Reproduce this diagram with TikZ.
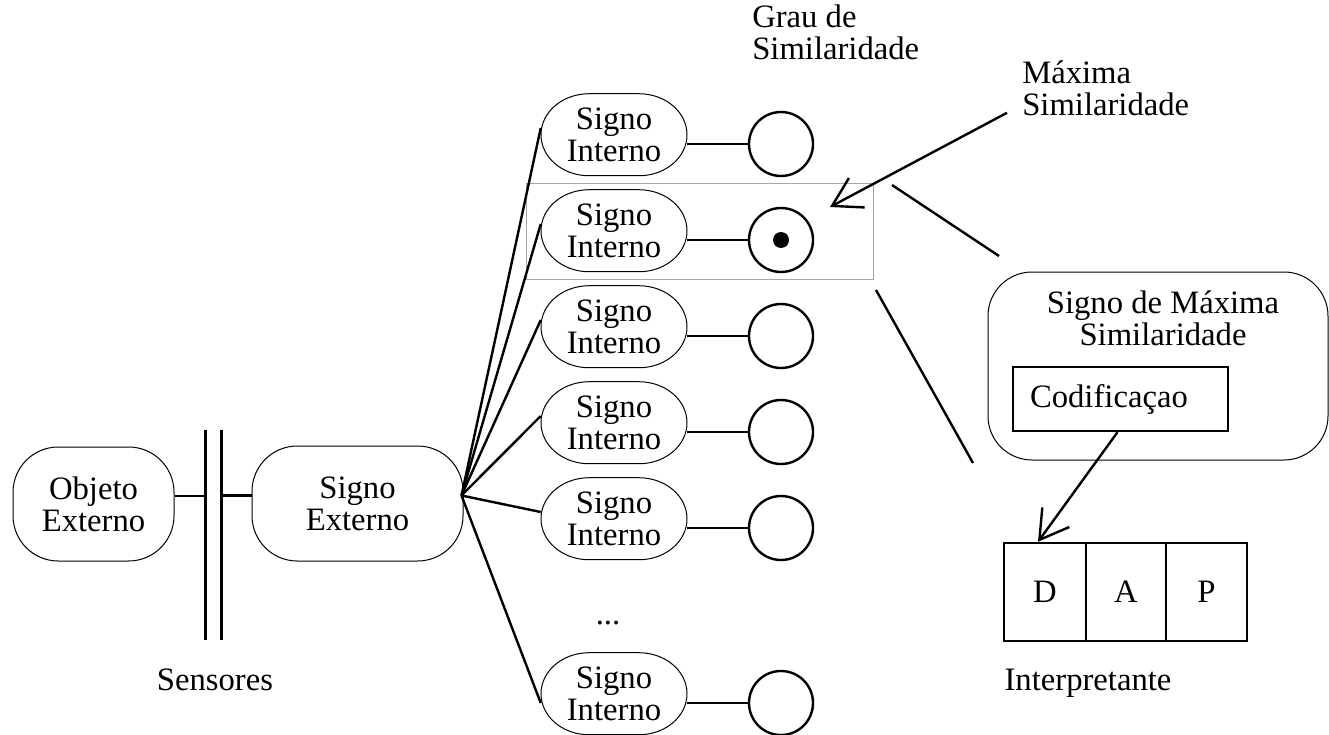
\documentclass[tikz,border=0pt]{standalone}
\usepackage{fontspec}
\setmainfont{Liberation Serif}
\usetikzlibrary{arrows.meta,calc}
\tikzset{
  txt/.style={font=\fontsize{24.5pt}{24pt}\selectfont, inner sep=0pt},
  obj/.style={draw, line width=0.75pt, rounded corners=34pt, txt, align=center},
  sint/.style={minimum width=109.5pt, minimum height=61.5pt, txt, align=center},
  sintborder/.style={line width=0.75pt},
  grau/.style={draw, circle, line width=1.8pt, minimum size=48pt, inner sep=0pt},
  conn/.style={line width=1.8pt},
  barb/.style={-{Straight Barb[length=21pt,width=25pt]}},
  cell/.style={draw, line width=1.8pt, minimum height=73.5pt, txt}
}
\begin{document}
\begin{tikzpicture}[x=0.75pt,y=-0.75pt]
\useasboundingbox (0,0) rectangle (1329,735);

% left part
\node[obj, minimum width=120.75pt, minimum height=85.5pt] (oe) at (93.5,504) {Objeto\\Externo};
\node[obj, minimum width=158.25pt, minimum height=86.25pt] (se) at (357.5,503.5) {Signo\\Externo};
\coordinate (s1t) at (205.5,430); \coordinate (s1b) at (205.5,640);
\coordinate (s2t) at (221.5,430); \coordinate (s2b) at (221.5,640);
\draw[conn] (s1t) -- (s1b);
\draw[conn] (s2t) -- (s2b);
\coordinate (oeout) at ($(oe.east)+(0,-8)$);
\coordinate (sein) at ($(se.west)+(0,-8)$);
\draw[conn] (oeout) -- (oeout -| s1t);
\draw[conn] (sein -| s2t) -- (sein);
\node[txt, anchor=base] (sens) at (215,690) {Sensores};

% selection rectangle
\node[draw=gray!70, line width=0.75pt, minimum width=260.25pt, minimum height=72pt, inner sep=0pt] (sel) at (699.5,231) {};

% internal signs
\coordinate (hub) at ($(se.east)+(-2,-8)$);
\foreach \i/\y in {1/135,2/231,3/327,4/423,5/519,6/694} {
  \node[sint] (si\i) at (614,\y) {Signo\\Interno};
  \draw[sintborder] (si\i.north) -- ++(-25,0)
     arc[start angle=90, end angle=270, x radius=36pt, y radius=30.75pt] -- ++(50,0)
     arc[start angle=-90, end angle=90, x radius=36pt, y radius=30.75pt] -- cycle;
  \node[grau] (g\i) at (781,\y+9) {};
  \draw[conn] (si\i.east |- g\i) -- (g\i);
}
\foreach \i in {1,...,5} {
  \draw[conn] (hub) -- ($(si\i.west)+(0,-7)$);
}
\draw[conn] (hub) -- ($(si6.west)+(0,9)$);
\node[circle, fill, minimum size=12pt, inner sep=0pt] (dot) at (g2) {};
\node[txt, anchor=base] (dots) at (608,624) {...};

\node[txt, align=left, anchor=west] (grautxt) at (752,32) {Grau de\\Similaridade};
\node[txt, align=left, anchor=west] (maxl) at (1022,88) {Máxima\\Similaridade};
\coordinate (tip) at (830,207);
\draw[conn, barb] ($(maxl.south west)+(-15,-3)$) -- (tip);

% zoom lines
\coordinate (m1a) at (892,185); \coordinate (m1b) at (999,256);
\coordinate (m2a) at (876,290); \coordinate (m2b) at (973,463);
\draw[conn] (m1a) -- (m1b);
\draw[conn] (m2a) -- (m2b);

% sign of maximum similarity
\node[draw, line width=0.75pt, rounded corners=33pt, minimum width=255pt, minimum height=141pt, inner sep=0pt] (smsbox) at (1158,366) {};
\node[txt, align=center] (smst) at (1163,318) {Signo de Máxima\\Similaridade};
\node[draw, line width=1.8pt, txt, minimum width=161.25pt, minimum height=48pt, text width=135.75pt, align=left] (cod) at (1120.5,399) {Codificaçao};

% interpretant
\node[cell, minimum width=61.5pt] (dd) at (1045,592) {D};
\node[cell, minimum width=60pt] (aa) at (1126,592) {A};
\node[cell, minimum width=60.75pt] (pp) at (1206.5,592) {P};
\draw[conn, barb] ($(cod.south)+(-3,0)$) -- ($(dd.north)+(-7,0)$);
\node[txt, anchor=base] (interp) at (1088,690) {Interpretante};
\end{tikzpicture}
\end{document}
